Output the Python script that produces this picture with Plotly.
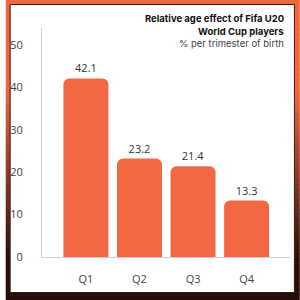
import plotly.graph_objects as go

categories = ["Q1", "Q2", "Q3", "Q4"]
values = [42.1, 23.2, 21.4, 13.3]
value_labels = ["42.1", "23.2", "21.4", "13.3"]
y_ticks = [0, 10, 20, 30, 40, 50]

W, H = 300, 300
L, R, T, B = 37, 10, 28, 43
PW, PH = W - L - R, H - T - B

def px(x):
    return (x - L) / PW

def py(y):
    return (H - B - y) / PH

def lerp(c1, c2, t):
    return tuple(int(round(a + (b - a) * t)) for a, b in zip(c1, c2))

ORANGE = (240, 102, 62)
DARK = (40, 14, 9)

shapes = []
n = 60
for i in range(n):
    y0 = i * H / n
    y1 = (i + 1) * H / n
    ym = (y0 + y1) / 2
    if ym < 90:
        t = 0.0
    elif ym > 260:
        t = 1.0
    else:
        t = (ym - 90) / 170
    c = lerp(ORANGE, DARK, t)
    shapes.append(dict(type="rect", xref="paper", yref="paper",
                       x0=px(0), x1=px(W), y0=py(y1), y1=py(y0) + 0.001,
                       fillcolor="rgb(%d,%d,%d)" % c, line=dict(width=0), layer="below"))
shapes.append(dict(type="rect", xref="paper", yref="paper",
                   x0=px(4.5), x1=px(294.5), y0=py(292.5), y1=py(4.5),
                   fillcolor="white", line=dict(color="#3a1a12", width=1), layer="below"))

fig = go.Figure(go.Bar(
    x=categories, y=values, text=value_labels, textposition="outside",
    textfont=dict(family="Open Sans", size=11, color="#333333"),
    marker=dict(color="#F26843", line=dict(width=0)),
    cliponaxis=False,
))

annotations = [
    dict(text="<b>Relative age effect of Fifa U20</b>", x=px(286), y=py(19), xref="paper", yref="paper",
         xanchor="right", yanchor="middle", showarrow=False,
         font=dict(family="Inter", size=9.5, color="#111111")),
    dict(text="<b>World Cup players</b>", x=px(286), y=py(31), xref="paper", yref="paper",
         xanchor="right", yanchor="middle", showarrow=False,
         font=dict(family="Inter", size=9.5, color="#111111")),
    dict(text="% per trimester of birth", x=px(286), y=py(43), xref="paper", yref="paper",
         xanchor="right", yanchor="middle", showarrow=False,
         font=dict(family="Inter", size=9.5, color="#444444")),
]

fig.update_layout(
    width=W, height=H,
    margin=dict(l=L, r=R, t=T, b=B, pad=0),
    paper_bgcolor="white", plot_bgcolor="rgba(0,0,0,0)",
    bargap=0.16, barcornerradius=6,
    showlegend=False,
    shapes=shapes, annotations=annotations,
    xaxis=dict(range=[-0.82, 3.81], showline=True, linecolor="#d0d0d0", linewidth=1,
               showgrid=False, ticks="", ticklabelstandoff=12,
               tickfont=dict(family="Open Sans", size=11, color="#444444"), fixedrange=True),
    yaxis=dict(range=[0, 54], tickvals=y_ticks, showline=True, linecolor="#d0d0d0", linewidth=1,
               showgrid=False, zeroline=False, ticks="", ticklabelstandoff=16,
               tickfont=dict(family="Open Sans", size=11, color="#444444"), fixedrange=True),
)

fig.write_html("out.html")
